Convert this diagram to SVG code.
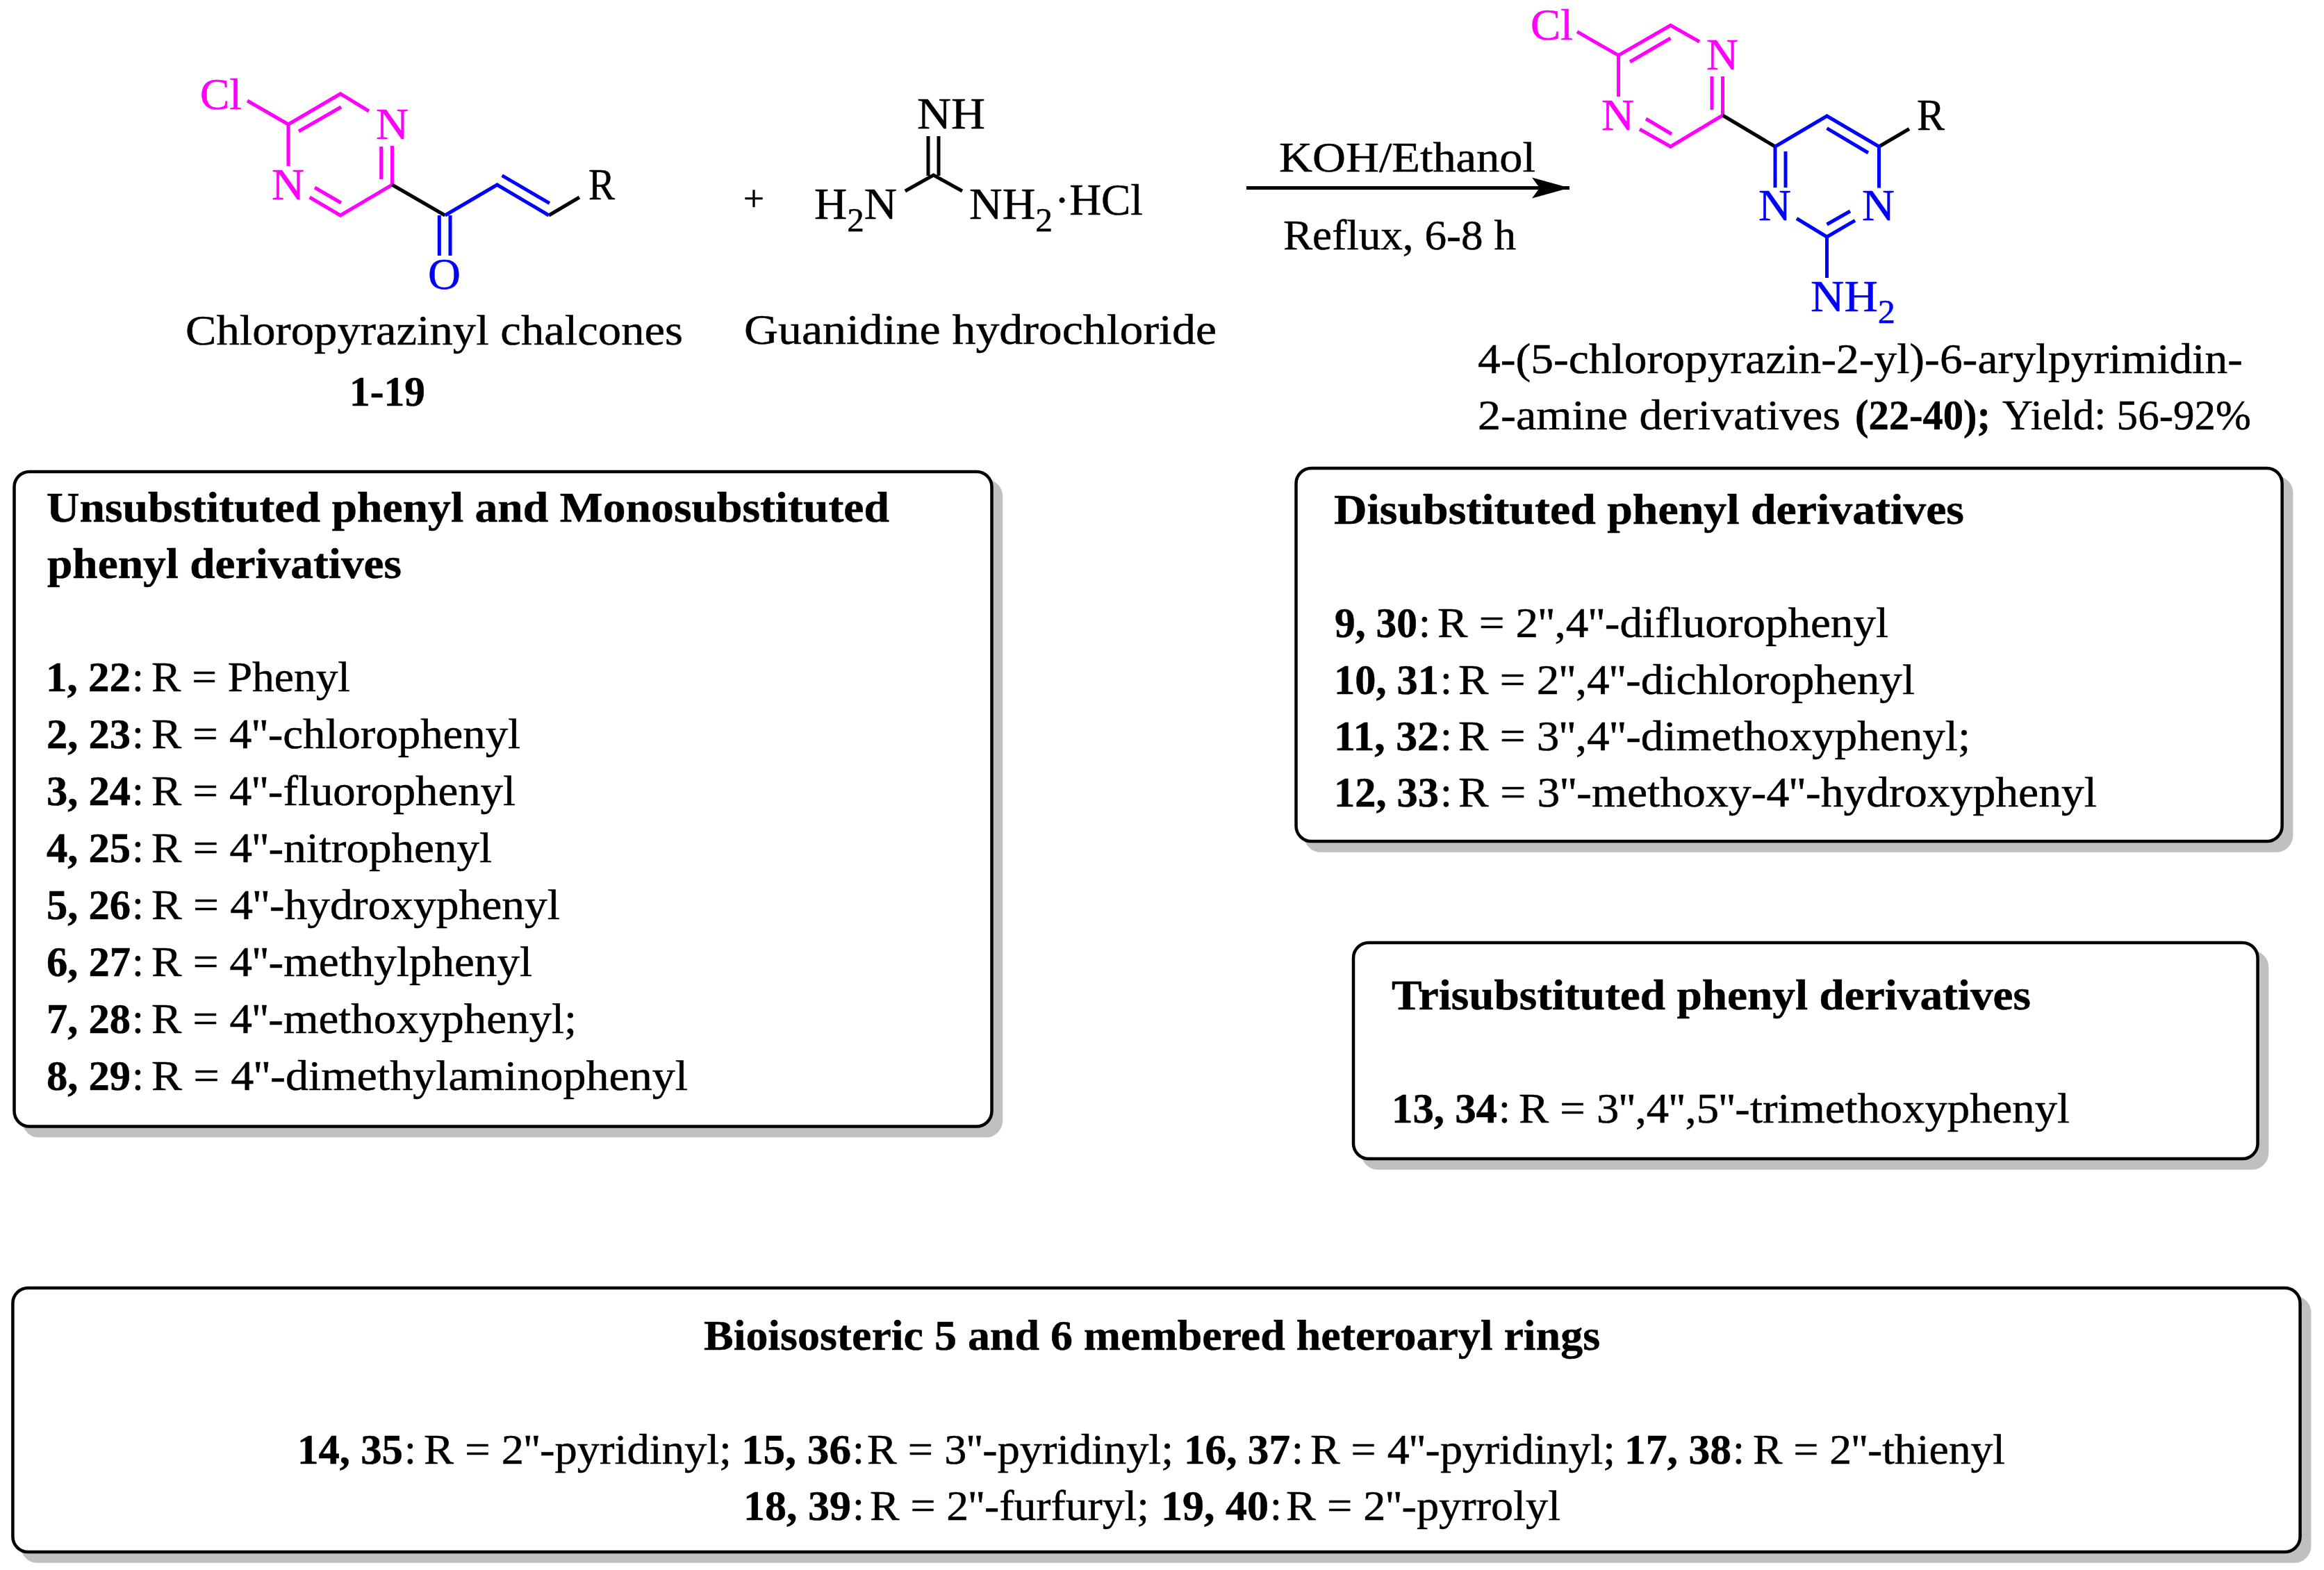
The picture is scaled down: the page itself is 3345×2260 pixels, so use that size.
<svg xmlns="http://www.w3.org/2000/svg" width="3345" height="2260" viewBox="0 0 3345 2260">
<style>
text{font-family:"Liberation Serif","Times New Roman",serif;font-size:61px;fill:#000;stroke:#000;stroke-width:.5}
.b,tspan.b{font-weight:bold}
text.m{fill:#ff00ff;stroke:#ff00ff}
text.u{fill:#0000ff;stroke:#0000ff}
text.atom{font-size:64px}
.bk{stroke:#000;stroke-width:5;fill:none}
.mg{stroke:#ff00ff;stroke-width:5;fill:none}
.bl{stroke:#0000ff;stroke-width:5;fill:none}
.sh{fill:#c0c0c0;stroke:#c0c0c0;stroke-width:4.5}
.bx{fill:#fff;stroke:#000;stroke-width:4.5}
.sub{font-size:48px}
</style>
<defs>
<marker id="ah" markerUnits="userSpaceOnUse" markerWidth="56" markerHeight="32" refX="54" refY="15" orient="auto" overflow="visible">
<path d="M0 0L54 15L0 30L11 15Z" fill="#000"/>
</marker>
</defs>
<rect width="3345" height="2260" fill="#fff"/>
<g id="connectors">
<path d="M1794 270.5H2259" stroke="#000" stroke-width="5" fill="none" marker-end="url(#ah)"/>
</g>
<g id="chalcone">
<path class="mg" d="M356 145L415 179L490 135L531 160M430 189L491 154M415 179V239M564.5 210V266L490 310L445.6 284M548.7 211V258M453 270L491 292"/>
<path class="bk" d="M564.5 266L640.5 310M790 310L834 284"/>
<path class="bl" d="M640.5 310L715.5 266L790 310M722.6 252.7L791 292.7M632.3 310V368M648 310V368"/>
<text class="atom m" x="288" y="157" textLength="60" lengthAdjust="spacingAndGlyphs">Cl</text>
<text class="atom m" x="541" y="200" textLength="47" lengthAdjust="spacingAndGlyphs">N</text>
<text class="atom m" x="391" y="287" textLength="47" lengthAdjust="spacingAndGlyphs">N</text>
<text class="atom u" x="616" y="416" textLength="47" lengthAdjust="spacingAndGlyphs">O</text>
<text class="atom" x="847" y="287" textLength="38" lengthAdjust="spacingAndGlyphs">R</text>
<text x="267" y="496" textLength="716" lengthAdjust="spacingAndGlyphs">Chloropyrazinyl chalcones</text>
<text class="b" x="503" y="584" textLength="109" lengthAdjust="spacingAndGlyphs">1-19</text>
</g>
<g id="plus"><text x="1070" y="303" style="font-size:52px" textLength="30" lengthAdjust="spacingAndGlyphs">+</text></g>
<g id="guanidine">
<path class="bk" d="M1336 196V253M1351 196V253M1302.8 275L1343.6 252L1385 275"/>
<text class="atom" x="1320" y="185" textLength="98" lengthAdjust="spacingAndGlyphs">NH</text>
<text class="atom" x="1172" y="315" textLength="119" lengthAdjust="spacingAndGlyphs">H<tspan class="sub" dy="18">2</tspan><tspan dy="-18">N</tspan></text>
<text class="atom" x="1395" y="315" textLength="120" lengthAdjust="spacingAndGlyphs">NH<tspan class="sub" dy="18">2</tspan></text>
<text class="atom" x="1518" y="309" textLength="127" lengthAdjust="spacingAndGlyphs">·HCl</text>
<text x="1071" y="495" textLength="680" lengthAdjust="spacingAndGlyphs">Guanidine hydrochloride</text>
</g>
<g id="conditions">
<text x="1841" y="247" textLength="369" lengthAdjust="spacingAndGlyphs">KOH/Ethanol</text>
<text x="1847" y="359" textLength="335" lengthAdjust="spacingAndGlyphs">Reflux, 6-8 h</text>
</g>
<g id="product">
<path class="mg" d="M2270 45.6L2329.5 79.7L2404.5 36.5L2446 60M2346 89L2404.5 55M2329.5 80V139M2479.5 110V166L2404.5 211L2360 186M2464 110V158M2406 193L2369 171"/>
<path class="bk" d="M2479.5 166L2555 211M2704.5 211L2748 185.5"/>
<path class="bl" d="M2555 270V211L2629.5 167L2704.5 211V270.5M2629.5 184.6L2689 220M2570 218V270M2586 314.5L2629.5 341L2670 317.4M2629.5 323L2663 304M2629.5 341V400"/>
<text class="atom m" x="2203" y="57" textLength="61" lengthAdjust="spacingAndGlyphs">Cl</text>
<text class="atom m" x="2456" y="100" textLength="46" lengthAdjust="spacingAndGlyphs">N</text>
<text class="atom m" x="2305" y="187" textLength="47" lengthAdjust="spacingAndGlyphs">N</text>
<text class="atom" x="2759" y="187" textLength="40" lengthAdjust="spacingAndGlyphs">R</text>
<text class="atom u" x="2531" y="317" textLength="47" lengthAdjust="spacingAndGlyphs">N</text>
<text class="atom u" x="2680" y="317" textLength="47" lengthAdjust="spacingAndGlyphs">N</text>
<text class="atom u" x="2606" y="448" textLength="122" lengthAdjust="spacingAndGlyphs">NH<tspan class="sub" dy="17">2</tspan></text>
<text x="2127" y="537" textLength="1101" lengthAdjust="spacingAndGlyphs">4-(5-chloropyrazin-2-yl)-6-arylpyrimidin-</text>
<text y="618"><tspan x="2127" textLength="522" lengthAdjust="spacingAndGlyphs">2-amine derivatives</tspan> <tspan class="b" x="2670" textLength="195" lengthAdjust="spacingAndGlyphs">(22-40);</tspan> <tspan x="2882" textLength="358" lengthAdjust="spacingAndGlyphs">Yield: 56-92%</tspan></text>
</g>
<g id="box-mono">
<rect class="sh" x="34" y="692.5" width="1407" height="942.5" rx="22"/>
<rect class="bx" x="20.5" y="679" width="1407" height="942.5" rx="22"/>
<text class="b" x="67" y="751" textLength="1213" lengthAdjust="spacingAndGlyphs">Unsubstituted phenyl and Monosubstituted</text>
<text class="b" x="68" y="832" textLength="510" lengthAdjust="spacingAndGlyphs">phenyl derivatives</text>
<text y="995"><tspan class="b" x="66" textLength="122" lengthAdjust="spacingAndGlyphs">1, 22</tspan><tspan x="190">:</tspan> <tspan x="218" textLength="286" lengthAdjust="spacingAndGlyphs">R = Phenyl</tspan></text>
<text y="1077"><tspan class="b" x="67" textLength="121" lengthAdjust="spacingAndGlyphs">2, 23</tspan><tspan x="190">:</tspan> <tspan x="218" textLength="531" lengthAdjust="spacingAndGlyphs">R = 4''-chlorophenyl</tspan></text>
<text y="1159"><tspan class="b" x="67" textLength="121" lengthAdjust="spacingAndGlyphs">3, 24</tspan><tspan x="190">:</tspan> <tspan x="218" textLength="524" lengthAdjust="spacingAndGlyphs">R = 4''-fluorophenyl</tspan></text>
<text y="1241"><tspan class="b" x="67" textLength="121" lengthAdjust="spacingAndGlyphs">4, 25</tspan><tspan x="190">:</tspan> <tspan x="218" textLength="490" lengthAdjust="spacingAndGlyphs">R = 4''-nitrophenyl</tspan></text>
<text y="1323"><tspan class="b" x="67" textLength="121" lengthAdjust="spacingAndGlyphs">5, 26</tspan><tspan x="190">:</tspan> <tspan x="218" textLength="588" lengthAdjust="spacingAndGlyphs">R = 4''-hydroxyphenyl</tspan></text>
<text y="1405"><tspan class="b" x="67" textLength="121" lengthAdjust="spacingAndGlyphs">6, 27</tspan><tspan x="190">:</tspan> <tspan x="218" textLength="548" lengthAdjust="spacingAndGlyphs">R = 4''-methylphenyl</tspan></text>
<text y="1487"><tspan class="b" x="67" textLength="121" lengthAdjust="spacingAndGlyphs">7, 28</tspan><tspan x="190">:</tspan> <tspan x="218" textLength="612" lengthAdjust="spacingAndGlyphs">R = 4''-methoxyphenyl;</tspan></text>
<text y="1569"><tspan class="b" x="67" textLength="121" lengthAdjust="spacingAndGlyphs">8, 29</tspan><tspan x="190">:</tspan> <tspan x="218" textLength="772" lengthAdjust="spacingAndGlyphs">R = 4''-dimethylaminophenyl</tspan></text>
</g>
<g id="box-di">
<rect class="sh" x="1879" y="687.5" width="1419.2" height="537" rx="22"/>
<rect class="bx" x="1865.5" y="674" width="1419.2" height="537" rx="22"/>
<text class="b" x="1920" y="753.6" textLength="907" lengthAdjust="spacingAndGlyphs">Disubstituted phenyl derivatives</text>
<text y="917"><tspan class="b" x="1921" textLength="119" lengthAdjust="spacingAndGlyphs">9, 30</tspan><tspan x="2042">:</tspan> <tspan x="2069" textLength="649" lengthAdjust="spacingAndGlyphs">R = 2'',4''-difluorophenyl</tspan></text>
<text y="998.5"><tspan class="b" x="1920" textLength="151" lengthAdjust="spacingAndGlyphs">10, 31</tspan><tspan x="2073">:</tspan> <tspan x="2099" textLength="657" lengthAdjust="spacingAndGlyphs">R = 2'',4''-dichlorophenyl</tspan></text>
<text y="1080"><tspan class="b" x="1920" textLength="151" lengthAdjust="spacingAndGlyphs">11, 32</tspan><tspan x="2073">:</tspan> <tspan x="2099" textLength="737" lengthAdjust="spacingAndGlyphs">R = 3'',4''-dimethoxyphenyl;</tspan></text>
<text y="1161"><tspan class="b" x="1920" textLength="151" lengthAdjust="spacingAndGlyphs">12, 33</tspan><tspan x="2073">:</tspan> <tspan x="2099" textLength="919" lengthAdjust="spacingAndGlyphs">R = 3''-methoxy-4''-hydroxyphenyl</tspan></text>
</g>
<g id="box-tri">
<rect class="sh" x="1961.5" y="1370.5" width="1301.6" height="311" rx="22"/>
<rect class="bx" x="1948" y="1357" width="1301.6" height="311" rx="22"/>
<text class="b" x="2003" y="1452.7" textLength="920" lengthAdjust="spacingAndGlyphs">Trisubstituted phenyl derivatives</text>
<text y="1615.7"><tspan class="b" x="2003" textLength="152" lengthAdjust="spacingAndGlyphs">13, 34</tspan><tspan x="2157">:</tspan> <tspan x="2186" textLength="793" lengthAdjust="spacingAndGlyphs">R = 3'',4'',5''-trimethoxyphenyl</tspan></text>
</g>
<g id="box-hetero">
<rect class="sh" x="32" y="1867.5" width="3292.2" height="380" rx="22"/>
<rect class="bx" x="18.4" y="1854" width="3292.2" height="380" rx="22"/>
<text class="b" x="1013" y="1943" textLength="1290" lengthAdjust="spacingAndGlyphs">Bioisosteric 5 and 6 membered heteroaryl rings</text>
<text y="2106.7"><tspan class="b" x="428" textLength="152" lengthAdjust="spacingAndGlyphs">14, 35</tspan><tspan x="582">:</tspan> <tspan x="610" textLength="443" lengthAdjust="spacingAndGlyphs">R = 2''-pyridinyl;</tspan></text>
<text y="2106.7"><tspan class="b" x="1067" textLength="158" lengthAdjust="spacingAndGlyphs">15, 36</tspan><tspan x="1227">:</tspan> <tspan x="1248" textLength="441" lengthAdjust="spacingAndGlyphs">R = 3''-pyridinyl;</tspan></text>
<text y="2106.7"><tspan class="b" x="1704" textLength="153" lengthAdjust="spacingAndGlyphs">16, 37</tspan><tspan x="1859">:</tspan> <tspan x="1886" textLength="439" lengthAdjust="spacingAndGlyphs">R = 4''-pyridinyl;</tspan></text>
<text y="2106.7"><tspan class="b" x="2338" textLength="154" lengthAdjust="spacingAndGlyphs">17, 38</tspan><tspan x="2494">:</tspan> <tspan x="2523" textLength="363" lengthAdjust="spacingAndGlyphs">R = 2''-thienyl</tspan></text>
<text y="2188"><tspan class="b" x="1070" textLength="155" lengthAdjust="spacingAndGlyphs">18, 39</tspan><tspan x="1227">:</tspan> <tspan x="1252" textLength="402" lengthAdjust="spacingAndGlyphs">R = 2''-furfuryl;</tspan></text>
<text y="2188"><tspan class="b" x="1671" textLength="155" lengthAdjust="spacingAndGlyphs">19, 40</tspan><tspan x="1828">:</tspan> <tspan x="1851" textLength="395" lengthAdjust="spacingAndGlyphs">R = 2''-pyrrolyl</tspan></text>
</g>
</svg>
